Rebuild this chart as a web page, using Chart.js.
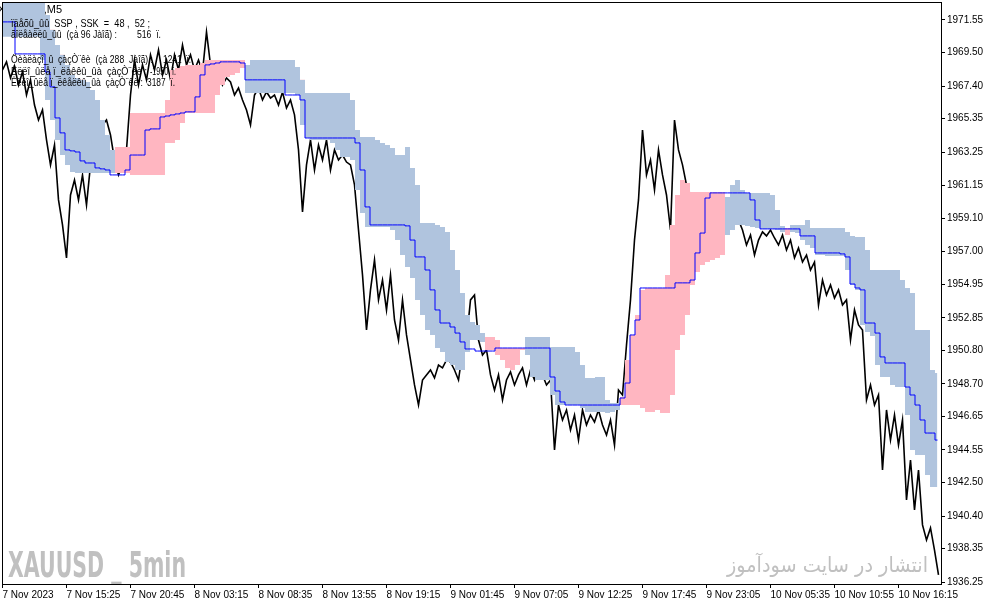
<!DOCTYPE html>
<html>
<head>
<meta charset="utf-8">
<script src="https://cdn.jsdelivr.net/npm/chart.js@4.4.1/dist/chart.umd.min.js"></script>
<style>
  html, body { margin: 0; padding: 0; background: #fff; }
  canvas { display: block; }
</style>
</head>
<body>
<canvas id="chart" width="987" height="605"></canvas>
<script>
// XAUUSD M5, 7-10 Nov 2023: close line, Ichimoku-style cloud and base line.
// One bar = one 5 min candle.

const priceTicks = [1971.55, 1969.50, 1967.40, 1965.35, 1963.25, 1961.15, 1959.10, 1957.00, 1954.95,
  1952.85, 1950.80, 1948.70, 1946.65, 1944.55, 1942.50, 1940.40, 1938.35, 1936.25];

const timeLabels = ["7 Nov 2023", "7 Nov 15:25", "7 Nov 20:45", "8 Nov 03:15", "8 Nov 08:35", "8 Nov 13:55",
  "8 Nov 19:15", "9 Nov 01:45", "9 Nov 07:05", "9 Nov 12:25", "9 Nov 17:45", "9 Nov 23:05",
  "10 Nov 05:35", "10 Nov 10:55", "10 Nov 16:15"];
const timeTickBars = [0, 64, 128, 192, 256, 320, 384, 448, 512, 576, 640, 704, 768, 832, 896];

// close price, one value every 4 bars
const closeStep = 4;
const closes = [
  1968.41, 1968.92, 1967.91, 1968.66, 1967.47, 1968.29, 1966.84, 1967.79, 1966.21, 1965.27,
  1965.90, 1964.02, 1962.45, 1963.70, 1960.25, 1958.68, 1956.61, 1960.56, 1961.50, 1960.25,
  1961.82, 1959.93, 1962.45, 1963.70, 1963.39, 1964.96, 1965.27, 1964.33, 1962.76, 1961.82,
  1962.45, 1963.39, 1966.84, 1969.04, 1967.47, 1968.73, 1967.79, 1969.36, 1968.41, 1969.67,
  1968.10, 1969.04, 1967.79, 1969.36, 1968.41, 1969.98, 1968.73, 1969.36, 1968.41, 1969.04,
  1968.29, 1970.80, 1968.73, 1967.79, 1968.29, 1967.47, 1967.91, 1967.66, 1966.84, 1967.28,
  1966.53, 1965.90, 1964.96, 1966.84, 1967.28, 1966.53, 1967.03, 1966.65, 1966.84, 1966.21,
  1967.03, 1966.03, 1966.53, 1965.59, 1963.39, 1959.49, 1962.45, 1964.02, 1962.13, 1963.70,
  1962.76, 1964.02, 1962.13, 1963.39, 1962.76, 1963.07, 1962.63, 1962.45, 1961.19, 1958.36,
  1955.54, 1952.08, 1954.60, 1956.48, 1953.97, 1955.22, 1953.34, 1955.54, 1952.71, 1951.45,
  1953.97, 1951.77, 1950.20, 1948.63, 1947.37, 1948.94, 1949.26, 1949.57, 1949.07, 1949.88,
  1949.70, 1950.20, 1950.07, 1949.57, 1948.94, 1950.70, 1951.45, 1953.97, 1954.28, 1951.45,
  1950.51, 1950.83, 1949.26, 1948.31, 1949.26, 1947.69, 1948.94, 1949.45, 1948.63, 1949.26,
  1949.70, 1948.63, 1949.57, 1948.94, 1949.88, 1949.26, 1948.63, 1948.94, 1944.55, 1947.37,
  1946.43, 1947.06, 1945.80, 1946.74, 1945.17, 1947.06, 1946.12, 1946.74, 1946.30, 1947.06,
  1946.12, 1945.49, 1946.43, 1944.86, 1948.31, 1948.00, 1951.14, 1953.97, 1957.73, 1960.25,
  1964.64, 1961.82, 1962.76, 1960.88, 1963.39, 1961.82, 1960.56, 1958.36, 1965.27, 1963.39,
  1962.45, 1961.19, 1960.56, 1960.25, 1959.62, 1959.93, 1959.31, 1959.62, 1958.99, 1959.31,
  1959.62, 1959.12, 1958.87, 1959.31, 1958.99, 1958.36, 1957.42, 1958.05, 1956.79, 1957.73,
  1958.24, 1957.99, 1958.36, 1957.86, 1957.42, 1958.05, 1957.11, 1957.73, 1956.61, 1957.23,
  1956.35, 1956.79, 1955.85, 1956.35, 1953.65, 1955.22, 1954.28, 1954.91, 1954.09, 1954.60,
  1953.65, 1953.97, 1951.45, 1953.34, 1952.40, 1952.08, 1947.69, 1948.63, 1947.37, 1948.00,
  1943.29, 1947.06, 1945.17, 1946.74, 1944.86, 1946.43, 1941.41, 1943.92, 1940.78, 1943.29,
  1939.84, 1938.89, 1939.65, 1938.26, 1936.70
];

// cloud edges and base line, one value every 5 bars
const cloudStep = 5;
const spanA = [
  1970.49, 1970.49, 1970.49, 1970.49, 1970.49, 1970.49, 1970.49, 1970.49, 1969.04, 1966.53,
  1965.27, 1964.02, 1963.07, 1962.45, 1962.01, 1961.94, 1961.94, 1961.94, 1961.94, 1961.94,
  1961.94, 1961.94, 1961.94, 1963.58, 1963.58, 1963.58, 1965.71, 1965.71, 1965.71, 1965.71,
  1965.71, 1965.71, 1965.71, 1966.53, 1968.41, 1968.54, 1968.66, 1968.73, 1968.73, 1968.73,
  1968.85, 1969.04, 1969.04, 1969.04, 1969.04, 1969.04, 1969.04, 1969.04, 1969.04, 1966.97,
  1966.97, 1966.97, 1966.97, 1966.97, 1966.97, 1966.97, 1966.97, 1966.97, 1966.97, 1966.84,
  1964.96, 1964.14, 1964.02, 1964.02, 1964.02, 1964.02, 1963.83, 1963.39, 1962.95, 1962.95,
  1962.76, 1960.88, 1959.43, 1958.55, 1958.55, 1958.55, 1958.55, 1958.55, 1958.36, 1957.73,
  1956.79, 1956.04, 1955.35, 1953.97, 1953.03, 1952.08, 1951.77, 1950.95, 1950.70, 1950.07,
  1949.88, 1949.57, 1949.57, 1950.70, 1951.45, 1951.45, 1951.33, 1951.64, 1951.64, 1951.45,
  1950.95, 1950.95, 1950.95, 1950.95, 1950.95, 1950.51, 1949.13, 1948.94, 1948.94, 1948.94,
  1948.00, 1947.37, 1947.37, 1947.37, 1947.37, 1947.37, 1947.18, 1946.93, 1946.93, 1946.93,
  1946.93, 1946.87, 1946.93, 1947.06, 1947.87, 1950.20, 1951.77, 1953.03, 1954.60, 1954.72,
  1954.72, 1954.72, 1954.72, 1955.54, 1958.68, 1960.56, 1961.50, 1961.32, 1960.75, 1960.75,
  1960.75, 1960.75, 1960.75, 1960.75, 1960.75, 1958.05, 1958.36, 1958.68, 1958.68, 1958.62,
  1958.55, 1958.49, 1958.43, 1958.43, 1958.43, 1958.36, 1958.24, 1958.49, 1958.24, 1958.17,
  1957.73, 1957.42, 1957.23, 1956.79, 1956.79, 1956.73, 1956.73, 1956.73, 1956.73, 1955.85,
  1954.91, 1954.60, 1952.40, 1951.96, 1951.71, 1949.88, 1949.13, 1949.13, 1948.63, 1948.50,
  1948.50, 1946.74, 1944.55, 1944.23, 1944.23, 1942.98, 1942.22, 1942.22
];
const spanB = [
  1973.12, 1973.12, 1973.12, 1973.12, 1973.12, 1973.12, 1973.12, 1973.12, 1972.81, 1971.87,
  1970.93, 1969.98, 1969.36, 1968.73, 1968.10, 1967.91, 1967.79, 1967.66, 1967.16, 1966.53,
  1965.27, 1964.33, 1963.39, 1961.94, 1961.94, 1961.94, 1961.82, 1961.82, 1961.82, 1961.82,
  1961.82, 1961.82, 1961.82, 1963.83, 1963.83, 1964.02, 1965.08, 1965.71, 1965.71, 1965.71,
  1965.71, 1965.71, 1965.71, 1966.84, 1967.47, 1967.97, 1968.10, 1968.22, 1968.54, 1968.73,
  1969.04, 1969.04, 1969.04, 1969.04, 1969.04, 1969.04, 1969.04, 1969.04, 1969.04, 1968.60,
  1967.79, 1966.97, 1966.97, 1966.97, 1966.97, 1966.97, 1966.97, 1966.97, 1966.97, 1966.97,
  1966.53, 1964.64, 1964.20, 1964.20, 1964.20, 1964.02, 1963.83, 1963.70, 1963.51, 1963.07,
  1963.07, 1963.58, 1962.26, 1961.19, 1958.80, 1958.80, 1958.80, 1958.68, 1958.55, 1958.24,
  1957.11, 1955.85, 1954.41, 1953.03, 1952.59, 1952.40, 1951.89, 1950.83, 1950.83, 1950.51,
  1950.20, 1949.70, 1949.57, 1949.88, 1950.83, 1951.64, 1951.64, 1951.64, 1951.64, 1951.64,
  1951.02, 1951.02, 1951.02, 1951.02, 1951.02, 1950.70, 1949.88, 1949.07, 1949.07, 1949.13,
  1949.13, 1947.69, 1947.50, 1947.50, 1947.37, 1947.37, 1947.37, 1947.37, 1947.18, 1946.93,
  1946.93, 1947.06, 1946.87, 1946.87, 1948.00, 1950.83, 1951.77, 1953.03, 1954.91, 1955.73,
  1956.17, 1956.35, 1956.48, 1956.61, 1956.79, 1960.44, 1961.19, 1961.50, 1960.88, 1960.69,
  1960.69, 1960.69, 1960.69, 1960.69, 1960.56, 1959.62, 1958.62, 1958.05, 1958.68, 1958.68,
  1958.68, 1958.99, 1958.49, 1958.49, 1958.49, 1958.49, 1958.49, 1958.49, 1958.49, 1958.24,
  1957.99, 1957.92, 1957.92, 1957.11, 1955.85, 1955.85, 1955.85, 1955.85, 1955.85, 1955.85,
  1955.22, 1954.72, 1954.41, 1952.08, 1952.08, 1952.08, 1949.57, 1949.38
];
const baseLine = [
  1971.43, 1971.43, 1971.43, 1969.42, 1969.42, 1969.42, 1969.42, 1969.42, 1969.42, 1968.29,
  1967.35, 1965.40, 1964.46, 1963.39, 1963.33, 1963.26, 1962.70, 1962.57, 1962.57, 1962.26,
  1962.20, 1962.13, 1961.82, 1961.82, 1961.82, 1962.13, 1963.07, 1963.07, 1963.07, 1964.64,
  1964.71, 1964.71, 1965.46, 1965.52, 1965.59, 1965.65, 1965.71, 1965.78, 1965.78, 1966.72,
  1968.10, 1968.73, 1968.79, 1968.85, 1968.92, 1968.92, 1968.92, 1968.92, 1968.85, 1967.79,
  1967.79, 1967.79, 1967.79, 1967.79, 1967.79, 1967.79, 1967.79, 1966.84, 1966.84, 1966.84,
  1966.53, 1964.14, 1964.14, 1964.14, 1964.14, 1964.14, 1964.14, 1964.14, 1964.14, 1964.14,
  1964.14, 1963.83, 1962.13, 1959.81, 1958.68, 1958.68, 1958.68, 1958.68, 1958.68, 1958.68,
  1958.68, 1958.62, 1957.73, 1956.67, 1956.67, 1955.85, 1954.60, 1953.34, 1952.52, 1952.52,
  1952.27, 1951.89, 1951.33, 1950.89, 1950.89, 1950.76, 1950.76, 1950.76, 1950.76, 1950.95,
  1950.95, 1950.95, 1950.95, 1950.95, 1950.95, 1950.95, 1950.95, 1950.95, 1950.95, 1950.95,
  1949.13, 1948.25, 1947.56, 1947.37, 1947.37, 1947.37, 1947.37, 1947.37, 1947.37, 1947.37,
  1947.37, 1947.37, 1947.37, 1947.37, 1947.81, 1948.75, 1951.77, 1952.71, 1954.72, 1954.72,
  1954.72, 1954.72, 1954.72, 1954.72, 1954.72, 1955.04, 1955.04, 1955.04, 1955.22, 1956.92,
  1958.17, 1960.37, 1960.69, 1960.69, 1960.69, 1960.69, 1960.69, 1960.69, 1960.69, 1960.69,
  1960.25, 1958.99, 1958.43, 1958.43, 1958.43, 1958.43, 1958.43, 1958.43, 1958.43, 1958.43,
  1957.99, 1957.99, 1957.99, 1956.92, 1956.92, 1956.92, 1956.92, 1956.92, 1956.86, 1956.67,
  1954.97, 1954.72, 1954.60, 1952.52, 1952.52, 1951.89, 1950.39, 1950.01, 1950.01, 1950.01,
  1950.01, 1948.50, 1948.00, 1947.37, 1946.43, 1945.61, 1945.61, 1945.17
];

const PINK = "#FFB6C1";
const STEEL = "#B0C4DE";
const AXIS_FONT = { family: "'Liberation Sans', Arial, sans-serif", size: 10 };

function toPoints(values, step) {
  return values.map((v, i) => ({ x: i * step, y: v }));
}

// MT4 chart texts: symbol title (behind the indicators), info lines, watermarks
const overlayPlugin = {
  id: "overlay",
  beforeDatasetsDraw(chart) {
    const ctx = chart.ctx;
    ctx.save();
    ctx.fillStyle = "#000";
    ctx.font = "11px 'Liberation Sans', Arial, sans-serif";
    ctx.textBaseline = "middle";
    ctx.textAlign = "right";
    ctx.fillText("XAUUSD,M5", 62, 10);

    ctx.fillStyle = "#C0C0C0";
    ctx.textAlign = "left";
    ctx.textBaseline = "alphabetic";
    ctx.font = "bold 36px 'Liberation Sans Narrow', 'DejaVu Sans Condensed', sans-serif";
    ctx.fillText("XAUUSD _ 5min", 8, 577, 178);

    ctx.font = "21px 'DejaVu Sans', sans-serif";
    ctx.direction = "rtl";
    ctx.textAlign = "right";
    ctx.fillText("انتشار در سایت سودآموز", 928, 572, 201);
    ctx.restore();
  },
  afterDatasetsDraw(chart) {
    const ctx = chart.ctx;
    const lines = [
      ["ïäåõû_ûû  SSP , SSK  =  48 ,  52 ;", 11, 24, 139],
      ["ãîëåàëëû_ûû  (çà 96 Jàîã) :", 11, 35, 106],
      ["516  ï.", 137, 35, 24],
      ["Öèàëàçî_û  çàçÒ¨êè  (çà 288  Jàîã) :", 11, 60, 142],
      ["1241  ï.", 163, 60, 28],
      ["Êëëî_ûëå ï_ëàêêû_ûà  çàçÒ¨êè :", 11, 72, 136],
      ["-1950  ï.", 150, 72, 26],
      ["Êëëî_ûëå ï_ëêåëêû_ûà  çàçÒ¨êè :", 11, 83, 132],
      ["3187  ï.", 147, 83, 28],
    ];
    ctx.save();
    ctx.fillStyle = "#000";
    ctx.font = "11px 'Liberation Sans', Arial, sans-serif";
    ctx.textBaseline = "middle";
    lines.forEach(([text, x, y, w]) => ctx.fillText(text, x, y, w));
    ctx.restore();
  },
  afterDraw(chart) {
    const { ctx, chartArea } = chart;
    ctx.save();
    ctx.strokeStyle = "#000";
    ctx.lineWidth = 1;
    ctx.strokeRect(chartArea.left + 0.5, chartArea.top + 0.5,
      chartArea.right - chartArea.left, chartArea.bottom - chartArea.top);
    ctx.restore();
  },
};

new Chart(document.getElementById("chart"), {
  type: "line",
  data: {
    datasets: [
      { label: "Base line", data: toPoints(baseLine, cloudStep), borderColor: "#0000FF", borderWidth: 1,
        stepped: "middle", pointRadius: 0, fill: false, order: 0 },
      { label: "Span A", data: toPoints(spanA, cloudStep), borderColor: "rgba(0,0,0,0)", borderWidth: 1,
        stepped: "middle", pointRadius: 0, fill: { target: 2, above: PINK, below: STEEL }, order: 1 },
      { label: "Span B", data: toPoints(spanB, cloudStep), borderColor: "rgba(0,0,0,0)", borderWidth: 1,
        stepped: "middle", pointRadius: 0, fill: false, order: 2 },
      { label: "Close", data: toPoints(closes, closeStep), borderColor: "#000", borderWidth: 1.6,
        pointRadius: 0, fill: false, tension: 0, order: 3 },
    ],
  },
  options: {
    responsive: false,
    animation: false,
    events: [],
    layout: { padding: { left: 2, top: 2, right: 0, bottom: 0 } },
    plugins: { legend: { display: false }, tooltip: { enabled: false } },
    scales: {
      x: {
        type: "linear",
        min: -0.5,
        max: 938.5,
        afterBuildTicks: (scale) => { scale.ticks = timeTickBars.map((v) => ({ value: v })); },
        afterFit: (scale) => { scale.height = 21; scale.paddingLeft = 0; scale.paddingRight = 0; },
        ticks: {
          callback: (v) => timeLabels[timeTickBars.indexOf(v)],
          align: "start", maxRotation: 0, autoSkip: false, padding: 1,
          color: "#000", font: AXIS_FONT,
        },
        grid: { drawOnChartArea: false, drawTicks: true, tickLength: 4, color: "#000" },
        border: { display: false },
      },
      y: {
        type: "linear",
        position: "right",
        min: 1936.13,
        max: 1972.68,
        afterBuildTicks: (scale) => { scale.ticks = priceTicks.map((v) => ({ value: v })); },
        afterFit: (scale) => { scale.width = 46; scale.paddingTop = 0; scale.paddingBottom = 0; },
        ticks: {
          callback: (v) => v.toFixed(2), autoSkip: false, padding: 2,
          color: "#000", font: AXIS_FONT,
        },
        grid: { drawOnChartArea: false, drawTicks: true, tickLength: 4, color: "#000" },
        border: { display: false },
      },
    },
  },
  plugins: [overlayPlugin],
});
</script>
</body>
</html>
